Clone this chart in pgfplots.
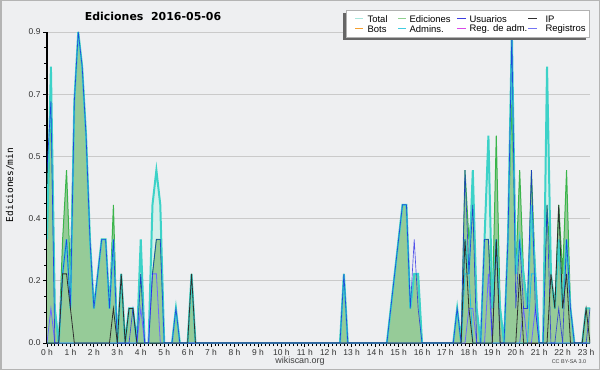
\documentclass[border=0pt]{standalone}
\usepackage{fontspec}
\setmainfont{Liberation Sans}
\newfontfamily\titlefont{DejaVu Sans}
\newfontfamily\monofont{DejaVu Sans Mono}
\usepackage{pgfplots}
\pgfplotsset{compat=1.18}
\usepackage{pgfplotstable}

\definecolor{bgcol}{HTML}{EEEFF1}
\definecolor{framecol}{HTML}{B4B4B4}
\definecolor{gridcol}{HTML}{CACACA}
\definecolor{totline}{HTML}{3CD2C8}
\definecolor{totfill}{HTML}{D4EFEA}
\definecolor{edline}{HTML}{3AB54A}
\definecolor{edfill}{HTML}{96CB98}
\definecolor{usuline}{HTML}{1010E8}
\definecolor{ipline}{HTML}{303030}
\definecolor{admline}{HTML}{22BCE0}
\definecolor{regline}{HTML}{6A6AFF}
\definecolor{lgtot}{HTML}{A8E6DC}
\definecolor{lged}{HTML}{8FD08F}
\definecolor{lgusu}{HTML}{3C3CE0}
\definecolor{lgbots}{HTML}{F5A030}
\definecolor{lgadm}{HTML}{40CCE0}
\definecolor{lgregadm}{HTML}{D848E8}
\definecolor{lgreg}{HTML}{7474F4}

% i = index of 10-minute interval (x = i/6 hours)
\pgfplotstableread{
i tot ed usu ip adm reg
0 0.3 0.3 0.5 0 0 0
1 0.8 0.7 0.7 0 0 0.1
2 0.1 0.1 0 0 0 0
3 0 0 0 0 0 0
4 0.2 0.3 0.2 0.2 0 0
5 0.3 0.5 0.3 0.2 0 0
6 0.1 0.2 0.1 0.1 0 0
7 0.7 0.7 0.7 0 0 0
8 0.9 0.9 0.9 0 0 0
9 0.8 0.8 0.8 0 0 0
10 0.6 0.6 0.6 0 0 0
11 0.3 0.3 0.3 0 0 0
12 0.1 0.1 0.1 0 0 0
13 0.2 0.2 0.2 0 0 0
14 0.3 0.3 0.3 0 0 0
15 0.3 0.3 0.3 0 0 0
16 0.1 0.1 0.1 0 0 0
17 0.3 0.4 0.3 0.1 0 0
18 0 0 0 0 0 0
19 0.2 0.2 0 0.2 0 0
20 0 0 0 0 0 0
21 0.1 0.1 0 0.1 0 0
22 0.1 0.1 0.1 0.1 0 0
23 0 0 0 0 0 0
24 0.3 0.2 0.2 0 0 0.1
25 0 0 0 0 0 0
26 0 0 0 0 0 0
27 0.4 0.2 0.2 0 0 0.2
28 0.5 0.3 0.3 0 0 0.2
29 0.4 0.3 0.3 0 0 0
30 0 0 0 0 0 0
32 0 0 0 0 0 0
33 0.1 0.1 0.1 0 0 0
34 0 0 0 0 0 0
36 0 0 0 0 0 0
37 0.2 0.2 0 0.2 0 0
38 0 0 0 0 0 0
75 0 0 0 0 0 0
76 0.2 0.2 0.2 0 0 0
77 0 0 0 0 0 0
87 0 0 0 0 0 0
88 0.1 0.1 0.1 0 0 0
89 0.2 0.2 0.2 0 0 0
90 0.3 0.3 0.3 0 0 0
91 0.4 0.4 0.4 0 0 0
92 0.4 0.4 0.4 0 0 0
93 0.1 0.1 0.1 0 0 0
94 0.2 0.2 0.3 0 0 0
95 0.2 0.2 0.1 0 0 0
96 0 0 0 0 0 0
104 0 0 0 0 0 0
105 0.1 0.1 0.1 0 0 0
106 0 0 0 0 0 0
107 0.3 0.5 0.5 0.3 0.2 0
108 0.2 0.3 0.2 0.1 0.2 0.1
109 0.5 0.4 0.4 0 0 0.1
110 0.1 0.1 0 0 0 0
111 0 0 0 0 0 0
112 0.3 0.3 0.3 0 0 0
113 0.6 0.3 0.3 0 0 0.2
114 0.1 0.1 0 0 0 0
115 0.3 0.6 0.3 0.3 0 0
116 0.1 0.1 0 0 0 0
117 0 0 0 0 0 0
118 0.3 0.3 0.3 0 0 0
119 0.9 0.7 0.9 0 0 0
120 0.2 0.2 0.1 0 0 0
121 0.3 0.5 0.3 0.2 0 0
122 0.2 0.2 0.1 0 0 0.1
123 0.1 0.1 0.1 0 0 0
124 0.4 0.5 0.5 0 0.2 0
125 0.2 0.2 0.1 0 0.2 0.1
126 0 0 0 0 0 0
127 0 0 0 0 0 0
128 0.8 0.4 0.4 0 0 0
129 0.2 0.2 0 0.2 0 0
130 0.1 0.1 0 0.1 0 0
131 0.3 0.4 0.1 0.4 0 0
132 0.1 0.2 0 0.1 0 0
133 0.3 0.5 0.3 0.2 0 0
134 0.1 0.1 0.1 0 0 0
135 0 0 0 0 0 0
137 0 0 0 0 0 0
138 0.1 0.1 0 0.1 0 0
139 0.1 0.1 0.1 0 0 0
}\data

\begin{document}
\begin{tikzpicture}[x=1bp,y=1bp]
\path[use as bounding box, fill=bgcol] (0,0) rectangle (600,370);
\draw[framecol, line width=1.5bp] (0.75,0.75) rectangle (599.25,369.25);
\begin{axis}[
  at={(47bp,27bp)}, anchor=south west,
  scale only axis, width=543bp, height=311bp,
  xmin=0, xmax=23.1667, ymin=0, ymax=0.9,
  axis x line=bottom, axis y line=left,
  axis line style={-, black, line width=1.1bp},
  clip=true,
  tick align=outside,
  major tick length=4bp, minor tick length=3bp,
  every tick/.style={black, line width=0.8bp},
  xtick={0,...,23},
  xticklabels={0 h,1 h,2 h,3 h,4 h,5 h,6 h,7 h,8 h,9 h,10 h,11 h,12 h,13 h,14 h,15 h,16 h,17 h,18 h,19 h,20 h,21 h,22 h,23 h},
  minor x tick num=5,
  ytick={0,0.18,0.36,0.54,0.72,0.9},
  yticklabels={0.0,0.2,0.4,0.5,0.7,0.9},
  minor y tick num=3,
  ymajorgrids, grid style={gridcol, line width=0.9bp},
  tick label style={font=\fontsize{8.5}{10}\selectfont, text=black!80},
  xticklabel style={yshift=1bp},
  yticklabel style={xshift=1bp},
]
\addplot[draw=none, fill=totfill] table[x expr=\thisrow{i}/6, y=tot]{\data} \closedcycle;
\addplot[draw=none, fill=edfill] table[x expr=\thisrow{i}/6, y=ed]{\data} \closedcycle;
\addplot[edline, line width=1bp] table[x expr=\thisrow{i}/6, y=ed]{\data};
\addplot[totline, line width=2bp] table[x expr=\thisrow{i}/6, y=tot]{\data};
\addplot[regline, line width=0.8bp] table[x expr=\thisrow{i}/6, y=reg]{\data};
\addplot[admline, line width=0.9bp] table[x expr=\thisrow{i}/6, y=adm]{\data};
\addplot[usuline, line width=0.65bp, opacity=0.7] table[x expr=\thisrow{i}/6, y=usu]{\data};
\addplot[ipline, line width=0.8bp] table[x expr=\thisrow{i}/6, y=ip]{\data};
\end{axis}
% legend
\fill[black!60] (343,330) rectangle (586,357);
\filldraw[fill=white, draw=black!30, line width=0.6bp] (346,333) rectangle (589,360);
\begin{scope}[every node/.style={anchor=west, inner sep=0pt, font=\fontsize{9.5}{10}\selectfont}, line width=1.2bp]
\draw[lgtot] (355,351.5) -- (363,351.5); \node at (367,351) {Total};
\draw[lged] (398,351.5) -- (406,351.5); \node at (409,351) {Ediciones};
\draw[lgusu] (457,351.5) -- (466,351.5); \node at (469,351) {Usuarios};
\draw[ipline] (528,351.5) -- (537,351.5); \node at (545,351) {IP};
\draw[lgbots] (355,341.5) -- (363,341.5); \node at (367,341) {Bots};
\draw[lgadm] (398,341.5) -- (406,341.5); \node at (409,341) {Admins.};
\draw[lgregadm] (457,341.5) -- (466,341.5); \node at (469,341) {Reg. de adm.};
\draw[lgreg] (528,341.5) -- (537,341.5); \node at (545,341) {Registros};
\end{scope}
\node[font=\titlefont\bfseries\fontsize{11}{13}\selectfont] at (153,354) {Ediciones\ \ 2016-05-06};
\node[rotate=90, font=\monofont\fontsize{9.5}{11}\selectfont] at (10,185) {Ediciones/min};
\node[font=\fontsize{9}{10}\selectfont, text=black!75] at (300,9) {wikiscan.org};
\node[font=\fontsize{5.5}{6}\selectfont, text=black!75] at (569,8) {CC BY-SA 3.0};
\end{tikzpicture}
\end{document}
